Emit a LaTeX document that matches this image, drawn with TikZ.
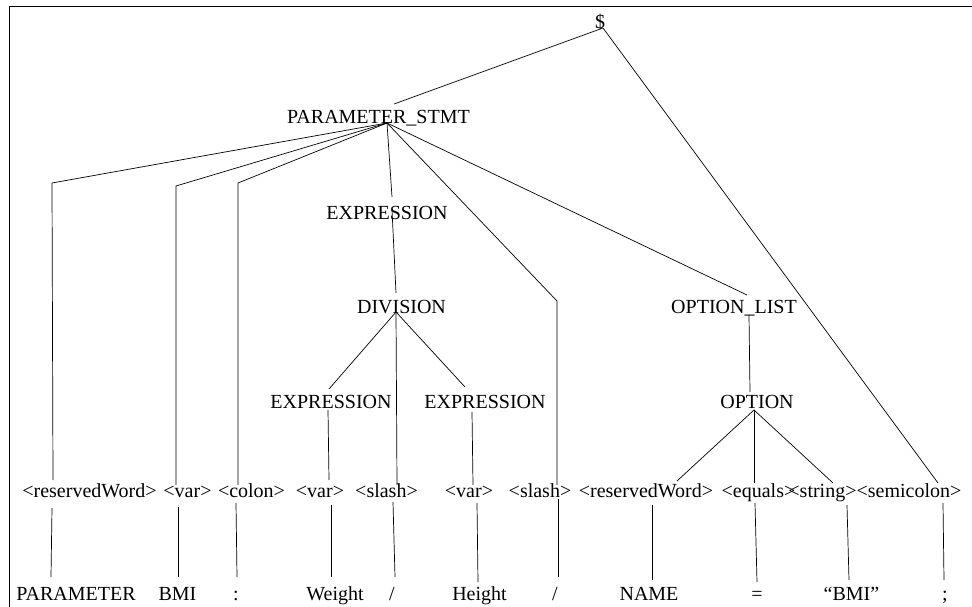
\documentclass[tikz,border=0pt]{standalone}
\usepackage{fontspec}
\setmainfont{Liberation Serif}
\usetikzlibrary{positioning}
\tikzset{font=\fontsize{20}{24}\selectfont}
\tikzset{lbl/.style={anchor=base, inner sep=0pt}}
\tikzset{branch/.style={line width=0.7pt}}
\tikzset{frame/.style={line width=1pt}}

\begin{document}
\begin{tikzpicture}[x=1pt, y=-1pt]
  \useasboundingbox (0,0) rectangle (972,607);
  \draw [frame] (9,607) -- (9,7) -- (972,7);%
  % inner nodes
  \node [lbl] (root) at (600,29) {\$};%
  \node [lbl] (stmt) at (378.5,124) {PARAMETER\_STMT};%
  \node [lbl] (expr) at (387,219) {EXPRESSION};%
  \node [lbl] (div) at (401.5,313) {DIVISION};%
  \node [lbl] (exl) at (331,408) {EXPRESSION};%
  \node [lbl] (exr) at (485,408) {EXPRESSION};%
  \node [lbl] (optlist) at (734,313) {OPTION\_LIST};%
  \node [lbl] (opt) at (757,408) {OPTION};%
  % token classes
  \node [lbl] (rw1) at (89.5,497) {<reservedWord>};%
  \node [lbl] (var1) at (187.5,497) {<var>};%
  \node [lbl] (colon) at (251.5,497) {<colon>};%
  \node [lbl] (var2) at (320,497) {<var>};%
  \node [lbl] (slash1) at (386.5,497) {<slash>};%
  \node [lbl] (var3) at (469,497) {<var>};%
  \node [lbl] (slash2) at (540,497) {<slash>};%
  \node [lbl] (rw2) at (646,497) {<reservedWord>};%
  \node [lbl] (equals) at (758.5,497) {<equals>};%
  \node [lbl] (string) at (822.5,497) {<string>};%
  \node [lbl] (semi) at (909,497) {<semicolon>};%
  % tokens
  \node [lbl] (tkparam) at (76,600) {PARAMETER};%
  \node [lbl] (tkbmi) at (177.5,600) {BMI};%
  \node [lbl] (tkcolon) at (236,600) {:};%
  \node [lbl] (tkweight) at (335,600) {Weight};%
  \node [lbl] (tkdiv) at (392,600) {/};%
  \node [lbl] (tkheight) at (479.5,600) {Height};%
  \node [lbl] (tkslash) at (555,600) {/};%
  \node [lbl] (tkname) at (649,600) {NAME};%
  \node [lbl] (tkeq) at (757,600) {=};%
  \node [lbl] (tkstr) at (851.5,600) {“BMI”};%
  \node [lbl] (tksemi) at (945,600) {;};%
  % joints of the tree
  \coordinate (root-j) at (603,28);%
  \coordinate (stmt-in) at (394,104);%
  \coordinate (stmt-j) at (387,123);%
  \coordinate (expr-in) at (392,197);%
  \coordinate (expr-out) at (392,210);%
  \coordinate (div-in) at (396,293);%
  \coordinate (div-j) at (396,312);%
  \coordinate (exl-in) at (329,389);%
  \coordinate (exl-out) at (328,410);%
  \coordinate (exr-in) at (465,387);%
  \coordinate (exr-out) at (472,412);%
  \coordinate (ol-in) at (747,295);%
  \coordinate (ol-out) at (749,315);%
  \coordinate (opt-in) at (750,392);%
  \coordinate (opt-j) at (754,410);%
  \coordinate (rw1-bend) at (52,183);%
  \coordinate (var1-bend) at (176,186);%
  \coordinate (colon-bend) at (238,183);%
  \coordinate (slash2-bend) at (557,301);%
  % ends at the token classes
  \coordinate (rw1-in) at (53,480);%
  \coordinate (var1-in) at (176,485);%
  \coordinate (colon-in) at (238,485);%
  \coordinate (var2-in) at (329,480);%
  \coordinate (slash1-in) at (397,485);%
  \coordinate (var3-in) at (473,485);%
  \coordinate (slash2-in) at (557,485);%
  \coordinate (rw2-in) at (677,481);%
  \coordinate (equals-in) at (754,483);%
  \coordinate (string-in) at (833,483);%
  \coordinate (semi-in) at (938,483);%
  \coordinate (rw1-out) at (52,508);%
  \coordinate (var1-out) at (178,507);%
  \coordinate (colon-out) at (236,503);%
  \coordinate (var2-out) at (331,505);%
  \coordinate (slash1-out) at (393,502);%
  \coordinate (var3-out) at (477,503);%
  \coordinate (slash2-out) at (558,499);%
  \coordinate (rw2-out) at (652,505);%
  \coordinate (equals-out) at (755,503);%
  \coordinate (string-out) at (847,505);%
  \coordinate (semi-out) at (943,503);%
  % ends at the tokens
  \coordinate (tkparam-in) at (51,577);%
  \coordinate (tkbmi-in) at (178,577);%
  \coordinate (tkcolon-in) at (237,577);%
  \coordinate (tkweight-in) at (331,577);%
  \coordinate (tkdiv-in) at (395,577);%
  \coordinate (tkheight-in) at (478,582);%
  \coordinate (tkslash-in) at (558,577);%
  \coordinate (tkname-in) at (652,580);%
  \coordinate (tkeq-in) at (757,582);%
  \coordinate (tkstr-in) at (849,580);%
  \coordinate (tksemi-in) at (944,580);%
  % branches
  \draw [branch] (root-j) -- (stmt-in);%
  \draw [branch] (root-j) -- (semi-in);%
  \draw [branch] (stmt-j) -- (rw1-bend) -- (rw1-in);%
  \draw [branch] (stmt-j) -- (var1-bend) -- (var1-in);%
  \draw [branch] (stmt-j) -- (colon-bend) -- (colon-in);%
  \draw [branch] (stmt-j) -- (expr-in);%
  \draw [branch] (stmt-j) -- (slash2-bend) -- (slash2-in);%
  \draw [branch] (stmt-j) -- (ol-in);%
  \draw [branch] (expr-out) -- (div-in);%
  \draw [branch] (div-j) -- (exl-in);%
  \draw [branch] (div-j) -- (exr-in);%
  \draw [branch] (div-j) -- (slash1-in);%
  \draw [branch] (exl-out) -- (var2-in);%
  \draw [branch] (exr-out) -- (var3-in);%
  \draw [branch] (ol-out) -- (opt-in);%
  \draw [branch] (opt-j) -- (rw2-in);%
  \draw [branch] (opt-j) -- (equals-in);%
  \draw [branch] (opt-j) -- (string-in);%
  \foreach \a/\b in {rw1/tkparam, var1/tkbmi, colon/tkcolon, var2/tkweight,
    slash1/tkdiv, var3/tkheight, slash2/tkslash, rw2/tkname, equals/tkeq,
    string/tkstr, semi/tksemi}
    \draw [branch] (\a-out) -- (\b-in);%
\end{tikzpicture}
\end{document}
